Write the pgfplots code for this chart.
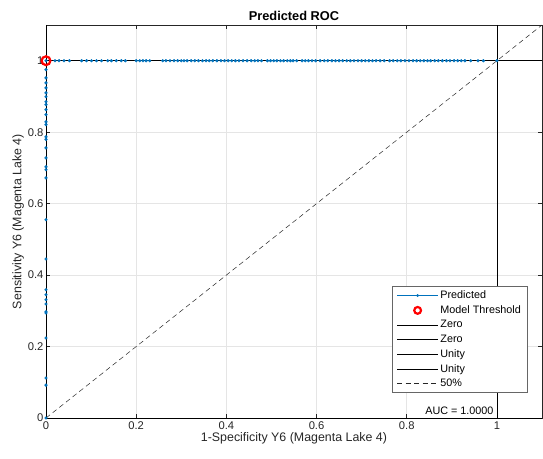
\documentclass[border=0pt]{standalone}
\usepackage{pgfplots}
\usepackage{pgfplotstable}
\pgfplotsset{compat=1.18}
\usepackage{fontspec}
\setmainfont{Liberation Sans}
\definecolor{mblue}{rgb}{0,0.447,0.741}
\definecolor{axgray}{rgb}{0.15,0.15,0.15}
\pgfplotstableread{
x y
0 0
0 0.092
0 0.112
0 0.224
0 0.294
0 0.297
0 0.319
0 0.331
0 0.345
0 0.359
0 0.445
0 0.555
0 0.672
0 0.695
0 0.703
0 0.728
0 0.756
0 0.780
0 0.787
0 0.821
0 0.829
0 0.849
0 0.863
0 0.877
0 0.885
0 0.899
0 0.910
0 0.924
0 0.938
0 0.952
0 0.975
0 1
0.020 1
0.029 1
0.040 1
0.052 1
0.079 1
0.090 1
0.101 1
0.112 1
0.123 1
0.137 1
0.145 1
0.156 1
0.167 1
0.176 1
0.200 1
0.208 1
0.215 1
0.222 1
0.230 1
0.259 1
0.266 1
0.275 1
0.284 1
0.292 1
0.300 1
0.306 1
0.313 1
0.322 1
0.330 1
0.338 1
0.347 1
0.355 1
0.362 1
0.370 1
0.379 1
0.388 1
0.396 1
0.404 1
0.412 1
0.420 1
0.428 1
0.437 1
0.446 1
0.455 1
0.463 1
0.470 1
0.478 1
0.491 1
0.498 1
0.505 1
0.512 1
0.520 1
0.527 1
0.535 1
0.542 1
0.548 1
0.556 1
0.568 1
0.575 1
0.582 1
0.590 1
0.598 1
0.608 1
0.617 1
0.625 1
0.634 1
0.642 1
0.650 1
0.658 1
0.667 1
0.675 1
0.683 1
0.692 1
0.700 1
0.708 1
0.716 1
0.724 1
0.732 1
0.741 1
0.750 1
0.762 1
0.770 1
0.779 1
0.787 1
0.796 1
0.805 1
0.814 1
0.822 1
0.830 1
0.838 1
0.846 1
0.853 1
0.862 1
0.870 1
0.879 1
0.888 1
0.896 1
0.905 1
0.913 1
0.921 1
0.929 1
0.942 1
0.958 1
0.970 1
1 1
}\roc
\begin{document}
\begin{tikzpicture}[x=1pt,y=1pt]
\begin{axis}[
  scale only axis,
  width=496pt, height=393pt,
  xmin=0, xmax=1.1, ymin=0, ymax=1.1,
  xtick={0,0.2,0.4,0.6,0.8,1}, ytick={0,0.2,0.4,0.6,0.8,1},
  xticklabels={0,0.2,0.4,0.6,0.8,1}, yticklabels={0,0.2,0.4,0.6,0.8,1},
  tick align=inside, tick pos=both,
  major tick length=4pt,
  grid=major,
  grid style={gray!20, line width=0.5pt},
  axis line style={axgray, line width=0.6pt},
  tick style={axgray, line width=0.6pt},
  every tick label/.append style={font=\fontsize{11.2}{13}\selectfont, text=axgray},
  xticklabel style={yshift=0pt},
  yticklabel style={xshift=1pt},
  title={\textbf{Predicted ROC}},
  title style={font=\fontsize{12.8}{15}\selectfont, yshift=-5pt},
  xlabel={1-Specificity Y6 (Magenta Lake 4)},
  ylabel={Sensitivity Y6 (Magenta Lake 4)},
  label style={font=\fontsize{12.4}{14}\selectfont, text=axgray},
  xlabel style={yshift=4pt},
  ylabel style={yshift=-3pt},
  legend style={at={(0.971,0.064)}, anchor=south east, font=\fontsize{10.8}{12}\selectfont,
    draw=gray!80!black, line width=0.5pt, fill=white, inner xsep=4.5pt, inner ysep=2.5pt, row sep=1.5pt,
    cells={anchor=west}},
  legend image code/.code={\draw[#1] (0pt,0pt) -- (41pt,0pt);},
  clip=true,
]
\addplot[color=mblue, line width=0.6pt, mark=none,
  legend image code/.code={\draw[color=mblue, line width=0.6pt] (0pt,0pt) -- (41pt,0pt); \fill[mblue] (20.5pt,0pt) circle (1.1pt);}]
  table[x=x, y=y] {\roc};
\addlegendentry{Predicted}
\addplot[forget plot, black, line width=0.7pt] coordinates {(0,0) (0,1.1)};
\addplot[forget plot, black, line width=0.7pt] coordinates {(0,0) (1.1,0)};
\addplot[forget plot, black, line width=0.7pt] coordinates {(1,0) (1,1.1)};
\addplot[forget plot, black, line width=0.7pt] coordinates {(0,1) (1.1,1)};
\addplot[forget plot, only marks, color=mblue, mark=*, mark size=1.4pt] table[x=x, y=y] {\roc};
\addplot[only marks, mark=o, mark size=4.4pt, color=red, line width=2.2pt,
  legend image code/.code={\draw[red, line width=2.2pt] (20.5pt,0pt) circle (3.4pt);}]
coordinates {(0,1)};
\addlegendentry{Model Threshold}
\addlegendimage{black, line width=0.6pt}
\addlegendentry{Zero}
\addlegendimage{black, line width=0.6pt}
\addlegendentry{Zero}
\addlegendimage{black, line width=0.6pt}
\addlegendentry{Unity}
\addlegendimage{black, line width=0.6pt}
\addlegendentry{Unity}
\addplot[black!85, line width=0.5pt, dash pattern=on 5pt off 3.5pt] coordinates {(0,0) (1.1,1.1)};
\addlegendentry{50\%}
\node[anchor=south east, font=\fontsize{10.8}{12}\selectfont, inner sep=1pt] at (axis cs:0.995,0.006) {AUC = 1.0000};
\end{axis}
\pgfresetboundingbox
\path (current axis.south west) ++(-46pt,-40pt) coordinate (bl);
\path (current axis.north east) ++(1pt,25pt) coordinate (tr);
\useasboundingbox (bl) rectangle (tr);
\end{tikzpicture}
\end{document}
